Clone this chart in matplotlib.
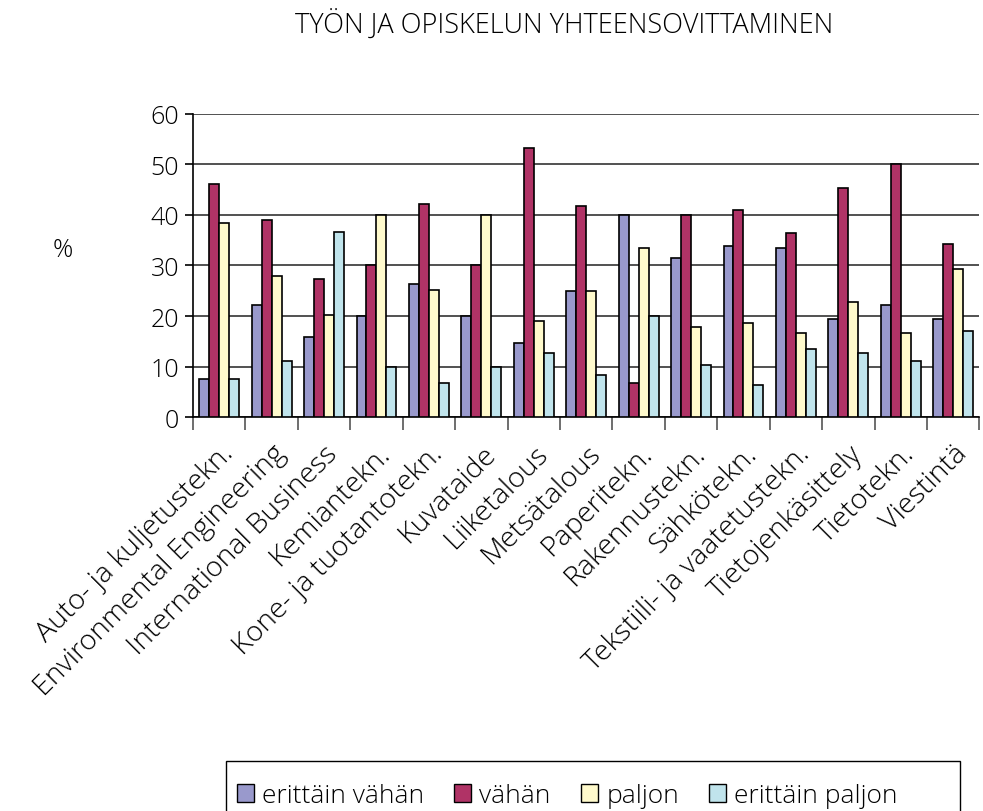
import numpy as np
import matplotlib.pyplot as plt
import matplotlib.transforms as mtransforms
from matplotlib.patches import Patch, Rectangle

plt.rcParams['font.family'] = ['Open Sans', 'DejaVu Sans']
plt.rcParams['font.weight'] = 'light'

categories = ['Auto- ja kuljetustekn.', 'Environmental Engineering', 'International Business',
              'Kemiantekn.', 'Kone- ja tuotantotekn.', 'Kuvataide', 'Liiketalous', 'Metsätalous',
              'Paperitekn.', 'Rakennustekn.', 'Sähkötekn.', 'Tekstiili- ja vaatetustekn.',
              'Tietojenkäsittely', 'Tietotekn.', 'Viestintä']

erittain_vahan = [7.5, 22.2, 15.8, 20.0, 26.3, 20.0, 14.7, 25.0, 40.0, 31.4, 33.8, 33.4, 19.4, 22.2, 19.4]
vahan = [46.1, 39.0, 27.4, 30.0, 42.1, 30.0, 53.2, 41.7, 6.7, 40.0, 41.0, 36.5, 45.3, 50.0, 34.2]
paljon = [38.5, 27.9, 20.2, 40.0, 25.1, 40.0, 19.0, 25.0, 33.4, 17.8, 18.6, 16.6, 22.7, 16.6, 29.4]
erittain_paljon = [7.5, 11.1, 36.6, 10.0, 6.7, 10.0, 12.7, 8.3, 20.0, 10.3, 6.3, 13.5, 12.7, 11.1, 17.0]

series = [erittain_vahan, vahan, paljon, erittain_paljon]
labels = ['erittäin vähän', 'vähän', 'paljon', 'erittäin paljon']
colors = ['#9999CC', '#B03366', '#FFFACC', '#C0E4EC']

fig = plt.figure(figsize=(9.83, 8.12), dpi=100)
ax = fig.add_axes([0.1963, 0.4852, 0.80, 0.3732])

x = np.arange(len(categories))
w = 0.19
for i, (vals, c) in enumerate(zip(series, colors)):
    ax.bar(x + (i - 1.5) * w, vals, w, color=c, edgecolor='black', linewidth=1.2, zorder=3)

ax.set_xlim(-0.5, len(categories) - 0.5)
ax.set_ylim(0, 60)
ax.set_yticks(range(0, 61, 10))
ax.yaxis.grid(True, color='#333333', linewidth=1.2, zorder=0)
for s in ['top', 'right']:
    ax.spines[s].set_visible(False)
ax.spines['left'].set_linewidth(1.2)
ax.spines['bottom'].set_linewidth(1.2)

ax.set_xticks(x)
ax.set_xticklabels(categories, rotation=45, ha='right', va='top', rotation_mode='anchor', fontsize=20.5)
# shift labels a little to the right, like the original
offset = mtransforms.ScaledTranslation(8 / 72, 0, fig.dpi_scale_trans)
for lbl in ax.get_xticklabels():
    lbl.set_transform(lbl.get_transform() + offset)
ax.set_xticks(np.arange(-0.5, len(categories)), minor=True)
ax.tick_params(axis='x', which='major', length=0, pad=16)
ax.tick_params(axis='x', which='minor', length=9, width=1.2, color='#555555')
ax.tick_params(axis='y', labelsize=18, length=6, width=1.2, pad=4)

fig.text(0.064, 0.692, '%', fontsize=18, ha='center', va='center')
fig.text(0.574, 0.969, 'TYÖN JA OPISKELUN YHTEENSOVITTAMINEN', fontsize=19.5, ha='center', va='center')

handles = [Patch(facecolor=c, edgecolor='black', label=l) for c, l in zip(colors, labels)]
leg = fig.legend(handles=handles, loc='upper left', bbox_to_anchor=(0.218, 0.0616), ncol=4,
                 fontsize=19, frameon=False,
                 handlelength=0.65, handleheight=0.65, handletextpad=0.3, columnspacing=1.15,
                 borderpad=0.35)
fig.patches.append(Rectangle((226 / 983, -0.05), (960 - 226) / 983, 0.05 + 50 / 812,
                             transform=fig.transFigure, fill=False, edgecolor='black', linewidth=1.0))

plt.savefig('out.png', dpi=100)
